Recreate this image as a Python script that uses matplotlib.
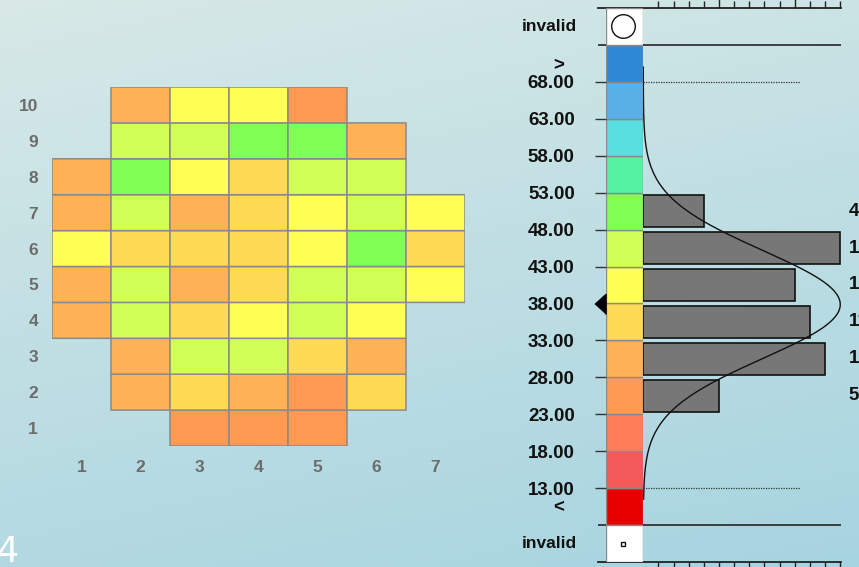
import numpy as np
import matplotlib
matplotlib.use("Agg")
import matplotlib.pyplot as plt
from matplotlib.colors import ListedColormap, BoundaryNorm
from matplotlib.patches import Rectangle
from matplotlib.ticker import FixedLocator

plt.rcParams["font.family"] = ["Liberation Sans", "DejaVu Sans"]

# ---- data -------------------------------------------------------------
col_labels = [1, 2, 3, 4, 5, 6, 7]
row_labels = [1, 2, 3, 4, 5, 6, 7, 8, 9, 10]
nan = np.nan
# cell values, row 1 (bottom) to row 10 (top); columns 1..7
grid_values = [
    [nan, nan, 25.5, 25.5, 25.5, nan, nan],    # row 1
    [nan, 30.5, 35.5, 30.5, 25.5, 35.5, nan],  # row 2
    [nan, 30.5, 45.5, 45.5, 35.5, 30.5, nan],  # row 3
    [30.5, 45.5, 35.5, 40.5, 45.5, 40.5, nan], # row 4
    [30.5, 45.5, 30.5, 35.5, 45.5, 45.5, 40.5],# row 5
    [40.5, 35.5, 35.5, 35.5, 40.5, 50.5, 35.5],# row 6
    [30.5, 45.5, 30.5, 35.5, 40.5, 45.5, 40.5],# row 7
    [30.5, 50.5, 40.5, 35.5, 45.5, 45.5, nan], # row 8
    [nan, 45.5, 45.5, 50.5, 50.5, 30.5, nan],  # row 9
    [nan, 30.5, 40.5, 40.5, 25.5, nan, nan],   # row 10
]
bin_edges = [8, 13, 18, 23, 28, 33, 38, 43, 48, 53, 58, 63, 68, 73]
bin_colors = ["#E80000", "#F55A5A", "#FF7E57", "#FF9A55", "#FFB257",
              "#FFDA55", "#FFFF55", "#D2FF55", "#80FF55", "#55F2A2",
              "#58DFDF", "#58B0E6", "#2E88D6"]
tick_values = [13, 18, 23, 28, 33, 38, 43, 48, 53, 58, 63, 68]
count_ticks = list(range(1, 14))
curve_range = (11.5, 70.0)

# ---- figure -----------------------------------------------------------
W, H = 859, 567
fig = plt.figure(figsize=(W / 100, H / 100), dpi=100)


def px_axes(x0, y0, x1, y1, **kw):
    """Axes from pixel box (top-left origin)."""
    return fig.add_axes([x0 / W, 1 - y1 / H, (x1 - x0) / W, (y1 - y0) / H], **kw)


# soft teal background
bg = px_axes(0, 0, W, H)
yy, xx = np.mgrid[0:1:200j, 0:1:300j]
t = np.clip(0.75 * yy + 0.25 * xx, 0, 1)
top = np.array([216, 233, 231]) / 255
bot = np.array([166, 212, 224]) / 255
img = top[None, None, :] * (1 - t[..., None]) + bot[None, None, :] * t[..., None]
bg.imshow(img, aspect="auto", extent=[0, 1, 0, 1], origin="upper")
bg.set_xlim(0, 1)
bg.set_ylim(0, 1)
bg.axis("off")
bg.text(-0.004, -0.004, "4", color="white", fontsize=25, ha="left", va="bottom",
        family="DejaVu Sans")

cmap = ListedColormap(bin_colors)
norm = BoundaryNorm(bin_edges, cmap.N)

# ---- heatmap ------------------------------------------------------------
ax = px_axes(52, 87, 465, 446)
Z = np.ma.masked_invalid(np.array(grid_values))
xe = np.arange(len(col_labels) + 1) + 0.5
ye = np.arange(len(row_labels) + 1) + 0.5
ax.pcolor(xe, ye, Z, cmap=cmap, norm=norm, edgecolors="#8a8a8a",
          linewidth=1.1)
ax.set_xlim(xe[0], xe[-1])
ax.set_ylim(ye[0], ye[-1])
ax.set_facecolor("none")
for s in ax.spines.values():
    s.set_visible(False)
ax.set_xticks(col_labels)
ax.set_yticks(row_labels)
ax.set_xticklabels([str(c) for c in col_labels])
ax.set_yticklabels([str(r) for r in row_labels])
ax.tick_params(axis="x", length=0, labelsize=12.5, labelcolor="#6c6c6c", pad=10)
ax.tick_params(axis="y", length=0, labelsize=12.5, labelcolor="#6c6c6c", pad=10)
for lab in ax.get_xticklabels() + ax.get_yticklabels():
    lab.set_fontweight("bold")

# ---- histogram of cell values ----------------------------------------
vals = np.array(grid_values, dtype=float).ravel()
vals = vals[~np.isnan(vals)]
counts, _ = np.histogram(vals, bins=bin_edges)
mean, sd = vals.mean(), vals.std()

c_px = 15.15          # pixels per count
x0_px = 643.3         # count zero
xl = -(x0_px - 598) / c_px
xr = (841 - x0_px) / c_px
ylim = (3, 78)

axh = px_axes(598, 8, 841, 562)
axh.set_facecolor("none")
axh.set_xlim(xl, xr)
axh.set_ylim(*ylim)
centers = (np.array(bin_edges[:-1]) + np.array(bin_edges[1:])) / 2
mask = counts > 0
axh.barh(centers[mask], counts[mask], height=4.3, left=0, color="#777777",
         edgecolor="#111111", linewidth=1.2, zorder=2)
for cy, n in zip(centers[mask], counts[mask]):
    axh.text(13.55, cy, str(n), fontsize=13.5, fontweight="bold", color="#111111",
             ha="left", va="center", clip_on=False)

# fitted normal curve, peak scaled to the tallest bar
v = np.linspace(*curve_range, 300)
curve = counts.max() * np.exp(-(v - mean) ** 2 / (2 * sd ** 2))
axh.plot(curve, v, color="#111111", lw=1.0, zorder=3)

# range limits
for lim in (tick_values[0], tick_values[-1]):
    axh.hlines(lim, 0, 10.35, colors="#333333", linestyles=(0, (1, 1)), lw=0.9,
               zorder=3)

# separators for invalid boxes
for sep in (bin_edges[0], bin_edges[-1]):
    axh.axhline(sep, color="#333333", lw=1.3, zorder=3)

for side in ("left", "right"):
    axh.spines[side].set_visible(False)
for side in ("top", "bottom"):
    axh.spines[side].set_color("#222222")
    axh.spines[side].set_linewidth(1.3)
axh.set_yticks([])
axh.xaxis.set_major_locator(FixedLocator([5, 10]))
axh.xaxis.set_minor_locator(FixedLocator([c for c in count_ticks if c % 5]))
axh.tick_params(axis="x", which="both", top=True, bottom=True, direction="out",
                labeltop=False, labelbottom=False, color="#222222", width=1.0)
axh.tick_params(axis="x", which="major", length=8)
axh.tick_params(axis="x", which="minor", length=5)

# ---- colour legend column --------------------------------------------
axc = px_axes(605.7, 8, 643.3, 562)
axc.set_xlim(0, 1)
axc.set_ylim(*ylim)
for lo, hi, colr in zip(bin_edges[:-1], bin_edges[1:], bin_colors):
    axc.add_patch(Rectangle((0, lo), 1, hi - lo, facecolor=colr,
                            edgecolor="#8a8a8a", lw=1.0))
step = bin_edges[1] - bin_edges[0]
axc.add_patch(Rectangle((0, bin_edges[-1]), 1, step, facecolor="white",
                        edgecolor="#8a8a8a", lw=1.0))
axc.add_patch(Rectangle((0, ylim[0]), 1, step, facecolor="white",
                        edgecolor="#8a8a8a", lw=1.0))
axc.plot(0.47, bin_edges[-1] + step / 2, marker="o", ms=17, mfc="white",
         mec="#111111", mew=1.0)
axc.plot(0.47, ylim[0] + step / 2, marker="s", ms=3.5, mfc="white",
         mec="#111111", mew=1.0)
# mean marker
axc.plot(-0.14, mean, marker=[(-0.55, 0), (0.55, 1), (0.55, -1)], ms=14.5,
         color="black", clip_on=False, zorder=5)

for s in axc.spines.values():
    s.set_visible(False)
axc.set_xticks([])
axc.set_yticks(tick_values)
axc.set_yticklabels([f"{tv:.2f}" for tv in tick_values])
axc.tick_params(axis="y", length=8, width=1.0, color="#333333", pad=14.3,
                labelsize=13.5)
for lab in axc.get_yticklabels():
    lab.set_fontweight("bold")
    lab.set_color("#111111")
txt = dict(fontweight="bold", color="#111111", va="center")
axc.text(-0.76, bin_edges[-1] + step / 2, "invalid", ha="right", fontsize=12.5,
         **txt)
axc.text(-0.76, ylim[0] + step / 2, "invalid", ha="right", fontsize=12.5, **txt)
axc.text(-1.1, 70.2, ">", ha="right", fontsize=13.5, **txt)
axc.text(-1.1, 10.3, "<", ha="right", fontsize=13.5, **txt)

fig.savefig("out.png", dpi=100)
